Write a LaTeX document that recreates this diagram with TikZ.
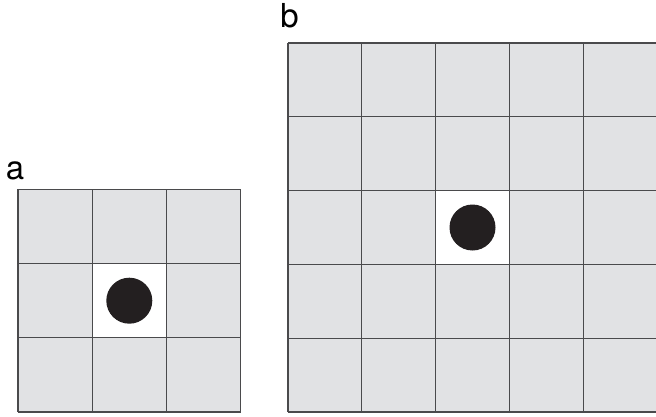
\documentclass[tikz,border=0pt]{standalone}
\usepackage{fontspec}
\setmainfont{TeX Gyre Heros}
\definecolor{cellgray}{HTML}{E1E2E4}
\definecolor{gridline}{HTML}{4A4A4C}
\definecolor{dotblack}{HTML}{231F20}
\tikzset{
	dot/.style={circle,fill=dotblack,inner sep=0pt,minimum size=46pt},
	panel/.style={anchor=base,font=\fontsize{33}{33}\selectfont,inner sep=0pt}
}
\begin{document}
\begin{tikzpicture}[x=1pt,y=1pt]
	\useasboundingbox (0,0) rectangle (656,416);
	% small field
	\begin{scope}[shift={(18,4)}]
		\fill[cellgray] (0,0) rectangle (222.6,222.6);
		\fill[white] (74.2,74.2) rectangle (148.4,148.4);
		\draw[gridline,line width=1.3pt] (0,0) grid[step=74.2pt] (222.6,222.6);
		\node[dot] (dotA) at (111.3,111.3) {};
	\end{scope}
	% large field
	\begin{scope}[shift={(288,4)}]
		\fill[cellgray] (0,0) rectangle (369,369);
		\fill[white] (147.6,147.6) rectangle (221.4,221.4);
		\draw[gridline,line width=1.3pt] (0,0) grid[step=73.8pt] (369,369);
		\node[dot] (dotB) at (184.5,184.5) {};
	\end{scope}
	\node[panel] (labA) at (15,237) {a};
	\node[panel] (labB) at (289.5,388) {b};
\end{tikzpicture}
\end{document}
